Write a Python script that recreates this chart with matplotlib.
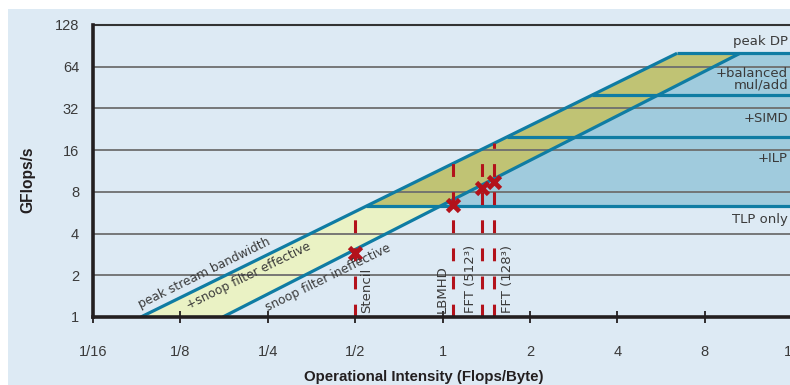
import numpy as np
import matplotlib

matplotlib.use("Agg")
import matplotlib.pyplot as plt
from matplotlib import font_manager
from matplotlib.patches import Rectangle
from matplotlib.transforms import blended_transform_factory

# ---- data -------------------------------------------------------------
OI_TICKS = [1/16, 1/8, 1/4, 1/2, 1, 2, 4, 8, 16]
OI_LABELS = ["1/16", "1/8", "1/4", "1/2", "1", "2", "4", "8", "16"]
GFLOP_TICKS = [1, 2, 4, 8, 16, 32, 64, 128]

PEAK_DP = 80
# in-core ceilings below peak DP: balanced mul/add, SIMD, TLP only
CEILINGS = [40, 20, 6.3]

# memory ceilings: operational intensity where each line is at 1 GFlop/s
# and where it reaches peak DP
STREAM_OI = [0.0914, 6.42]       # peak stream bandwidth
NO_SNOOP_OI = [0.175, 10.58]     # snoop filter ineffective
BW_GFLOPS = [1, PEAK_DP]

KERNELS = ["Stencil", "LBMHD", "FFT (512³)", "FFT (128³)"]
KERNEL_OI = [0.5, 1.09, 1.37, 1.50]
KERNEL_GFLOPS = [2.9, 6.4, 8.6, 9.5]
KERNEL_LABEL_DX = [11, -11, -12, 14]   # label offset from dashed line, px

BG = "#ddeaf4"
LINE = "#0f7ca3"
BLUE_FILL = "#a0cbdd"
OLIVE = "#c0c374"
PALE = "#eaf2c4"
RED = "#b3121b"
GRID = "#6e6e6e"
TXT = "#3a3a3a"

installed = {f.name for f in font_manager.fontManager.ttflist}
NARROW = next((f for f in ["Liberation Sans Narrow", "Liberation Sans", "DejaVu Sans"]
               if f in installed), "DejaVu Sans")


def oi_at(gflops, line_oi):
    """OI where a bandwidth line (straight in log-log) hits a given GFlop/s."""
    return 2 ** np.interp(np.log2(gflops), np.log2(BW_GFLOPS), np.log2(line_oi))


def gflops_at(oi, line_oi):
    return 2 ** np.interp(np.log2(oi), np.log2(line_oi), np.log2(BW_GFLOPS))


fig = plt.figure(figsize=(7.9, 3.85), dpi=100)
fig.patches.append(Rectangle((8 / 790, 0), 1, 376 / 385, transform=fig.transFigure,
                             facecolor=BG, edgecolor="none", zorder=-10))
ax = fig.add_axes([93 / 790, 68 / 385, 699.2 / 790, 292 / 385])
ax.set_facecolor("none")
ax.set_xscale("log", base=2)
ax.set_yscale("log", base=2)
ax.set_xlim(1/16, 16)
ax.set_ylim(1, 128)

x_right = 64
tlp = CEILINGS[-1]
up_tlp, up_pk = oi_at(tlp, STREAM_OI), STREAM_OI[1]
lo_tlp, lo_pk = oi_at(tlp, NO_SNOOP_OI), NO_SNOOP_OI[1]

# shaded regions between the ceilings
ax.fill([STREAM_OI[0], up_tlp, lo_tlp, NO_SNOOP_OI[0]], [1, tlp, tlp, 1],
        color=PALE, lw=0, zorder=1)
ax.fill([up_tlp, up_pk, lo_pk, lo_tlp], [tlp, PEAK_DP, PEAK_DP, tlp],
        color=OLIVE, lw=0, zorder=1)
ax.fill([lo_tlp, lo_pk, x_right, x_right], [tlp, PEAK_DP, PEAK_DP, tlp],
        color=BLUE_FILL, lw=0, zorder=1)

for g in GFLOP_TICKS[1:-1]:
    ax.axhline(g, color=GRID, lw=1.3, zorder=2)

# roofline ceilings
ax.plot(STREAM_OI, BW_GFLOPS, color=LINE, lw=2.3, zorder=3, solid_capstyle="butt")
ax.plot(NO_SNOOP_OI, BW_GFLOPS, color=LINE, lw=2.3, zorder=3, solid_capstyle="butt")
for g in [PEAK_DP] + CEILINGS:
    ax.plot([oi_at(g, STREAM_OI), x_right], [g, g], color=LINE, lw=2.3, zorder=3,
            solid_capstyle="butt")

# kernels: dashed drop lines up to the stream roof, measured points
for name, oi, gf, dx in zip(KERNELS, KERNEL_OI, KERNEL_GFLOPS, KERNEL_LABEL_DX):
    top = gflops_at(oi, STREAM_OI)
    ax.plot([oi, oi], [1, top], color=RED, lw=2.2, dashes=(4.2, 5.0), zorder=4)
    ax.plot(oi, gf, marker="x", ms=9, mew=3.4, color=RED, zorder=5)
    ax.annotate(name, (oi, 1), xytext=(dx, 4), textcoords="offset pixels",
                rotation=90, ha="center", va="bottom", fontsize=9.5, color=TXT, zorder=6)

# ceiling labels on the right
tr = blended_transform_factory(ax.transAxes, ax.transData)
for txt, y in [("peak DP", 97), ("+balanced\nmul/add", 52), ("+SIMD", 27.1),
               ("+ILP", 13.9), ("TLP only", 5.07)]:
    ax.text(0.994, y, txt, transform=tr, ha="right", va="center", fontsize=9.5,
            color=TXT, linespacing=0.9)

for txt, x, y in [("peak stream bandwidth", 0.0925, 1.11),
                  ("+snoop filter effective", 0.1345, 1.09),
                  ("snoop filter ineffective", 0.252, 1.05)]:
    ax.text(x, y, txt, rotation=26.2, rotation_mode="anchor", ha="left", va="bottom",
            fontsize=8.8, color=TXT, zorder=6)

ax.set_xticks(OI_TICKS)
ax.set_xticklabels(OI_LABELS, family=NARROW, fontsize=10.5, color=TXT)
ax.set_yticks(GFLOP_TICKS)
ax.set_yticklabels([str(g) for g in GFLOP_TICKS], family=NARROW, fontsize=10.5, color=TXT)
ax.xaxis.set_minor_locator(matplotlib.ticker.NullLocator())
ax.yaxis.set_minor_locator(matplotlib.ticker.NullLocator())
ax.tick_params(axis="x", direction="inout", length=9, width=1.3, color="#231f20", pad=16)
ax.tick_params(axis="y", length=0, pad=10)

ax.set_xlabel("Operational Intensity (Flops/Byte)", family=NARROW, fontweight="bold",
              fontsize=10.8, color="#231f20")
ax.set_ylabel("GFlops/s", family=NARROW, fontweight="bold", fontsize=11.2, color="#231f20")
ax.xaxis.set_label_coords(0.473, -0.18)
ax.yaxis.set_label_coords(-0.082, 0.47)

ax.spines["right"].set_visible(False)
ax.spines["top"].set_color("#333333")
ax.spines["top"].set_linewidth(1.5)
for s in ("left", "bottom"):
    ax.spines[s].set_color("#231f20")
    ax.spines[s].set_linewidth(2.6)
    ax.spines[s].set_zorder(7)

fig.savefig("out.png", dpi=100)
